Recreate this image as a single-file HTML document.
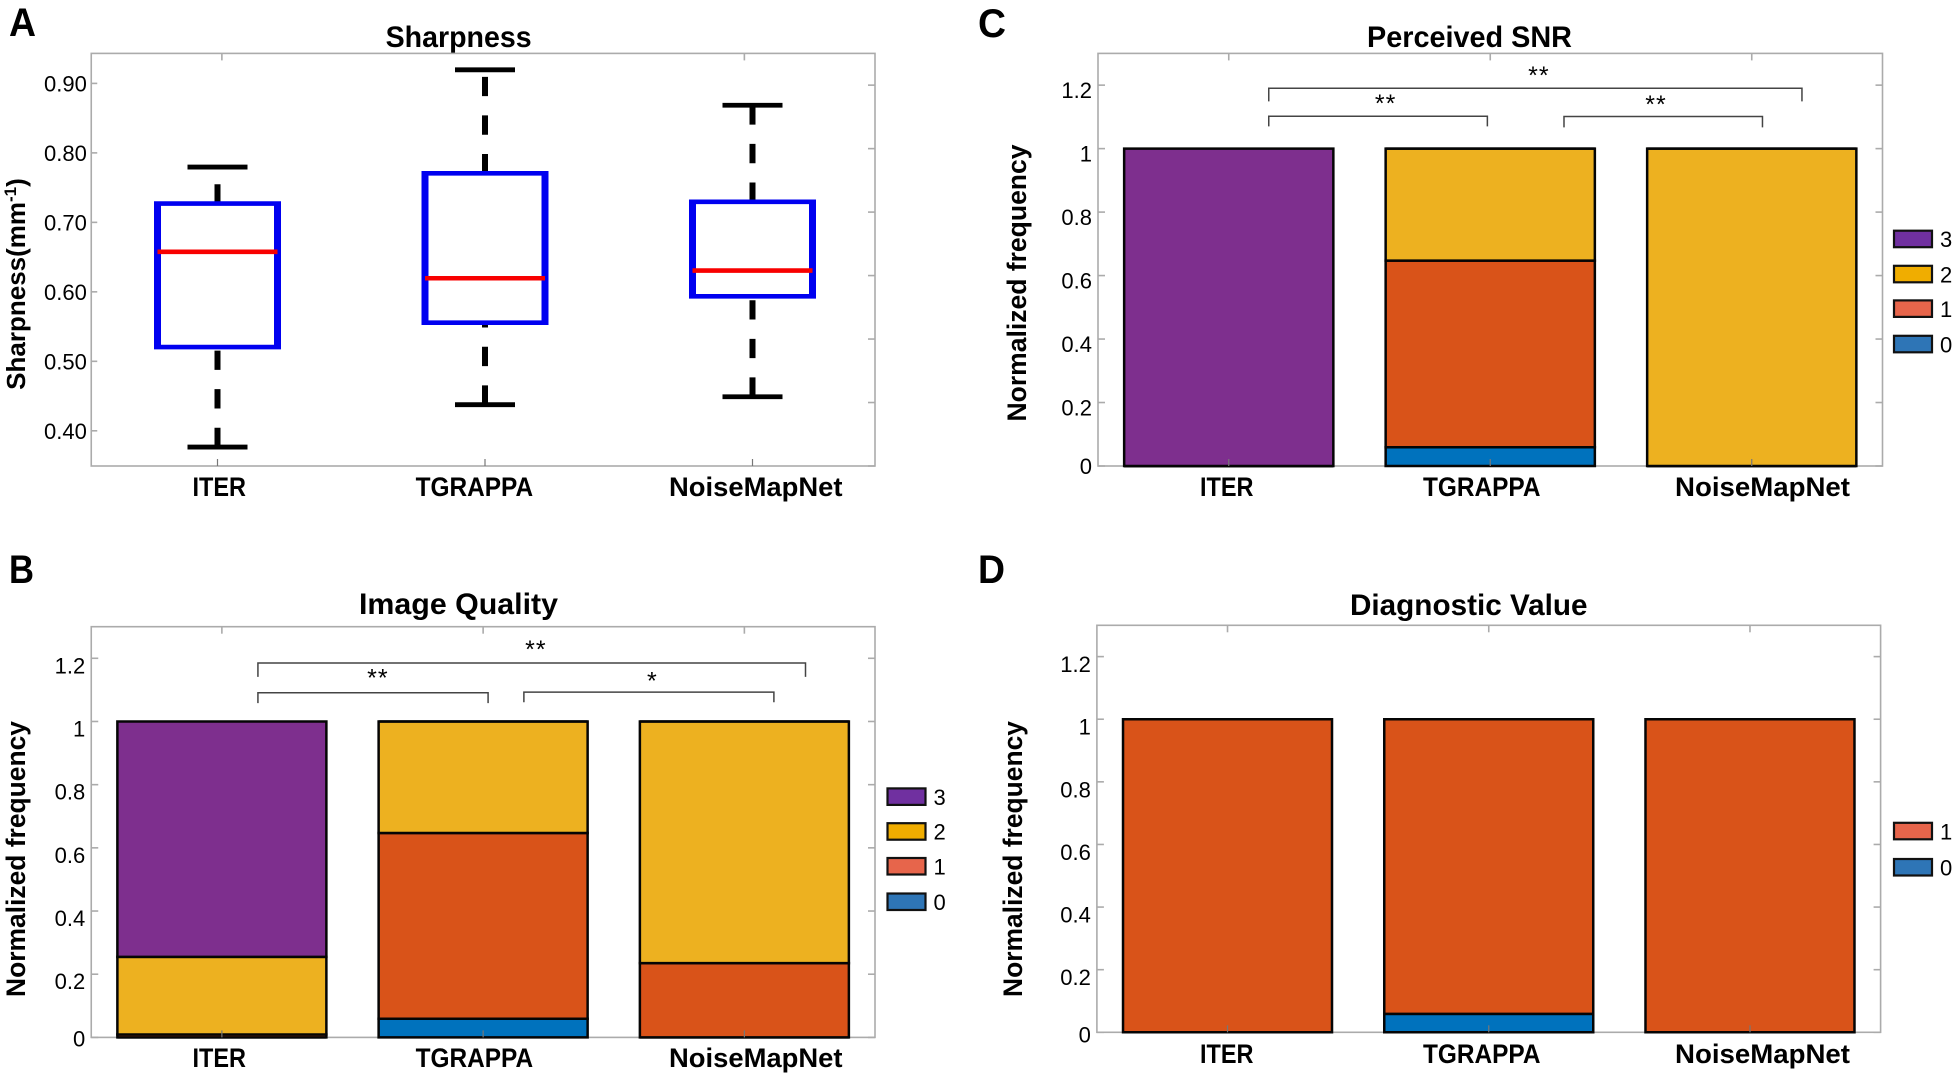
<!DOCTYPE html>
<html lang="en">
<head>
<meta charset="utf-8">
<title>Sharpness and reader score comparison</title>
<style>
html,body{margin:0;padding:0;background:#fff;width:1955px;height:1075px;overflow:hidden}
svg{display:block}
text{font-family:"Liberation Sans",sans-serif;fill:#000}
</style>
</head>
<body>
<svg id="figure" width="1955" height="1075" viewBox="0 0 1955 1075" xmlns="http://www.w3.org/2000/svg">
  <text x="9" y="36" font-size="40" font-weight="700" textLength="27" lengthAdjust="spacingAndGlyphs">A</text>
  <text x="9" y="583" font-size="40" font-weight="700" textLength="25" lengthAdjust="spacingAndGlyphs">B</text>
  <text x="978" y="37" font-size="40" font-weight="700" textLength="28" lengthAdjust="spacingAndGlyphs">C</text>
  <text x="978" y="583" font-size="40" font-weight="700" textLength="27" lengthAdjust="spacingAndGlyphs">D</text>

  <text x="385.6" y="47" font-size="30" font-weight="700" textLength="146" lengthAdjust="spacingAndGlyphs">Sharpness</text>
  <text x="1367" y="47" font-size="30" font-weight="700" textLength="205" lengthAdjust="spacingAndGlyphs">Perceived SNR</text>
  <text x="359" y="614" font-size="30" font-weight="700" textLength="199" lengthAdjust="spacingAndGlyphs">Image Quality</text>
  <text x="1350" y="615" font-size="30" font-weight="700" textLength="237.5" lengthAdjust="spacingAndGlyphs">Diagnostic Value</text>

  <text x="25" y="284" transform="rotate(-90 25 284)" text-anchor="middle" font-size="26" font-weight="700">Sharpness(mm<tspan font-size="17" dy="-9">-1</tspan><tspan dy="9">)</tspan></text>
  <text x="25" y="859" transform="rotate(-90 25 859)" text-anchor="middle" font-size="27" font-weight="700" textLength="276" lengthAdjust="spacingAndGlyphs">Normalized frequency</text>
  <text x="1026" y="283" transform="rotate(-90 1026 283)" text-anchor="middle" font-size="27" font-weight="700" textLength="277" lengthAdjust="spacingAndGlyphs">Normalized frequency</text>
  <text x="1022" y="859" transform="rotate(-90 1022 859)" text-anchor="middle" font-size="27" font-weight="700" textLength="276" lengthAdjust="spacingAndGlyphs">Normalized frequency</text>
</svg>
<script>
// ---- chart data ----
const categories = ['ITER', 'TGRAPPA', 'NoiseMapNet'];

// Panel A: box plot summary values
const sharpnessTicks = [0.40, 0.50, 0.60, 0.70, 0.80, 0.90];
const sharpnessHigh = [0.781, 0.921, 0.870];
const sharpnessQ3 = [0.7285, 0.772, 0.731];
const sharpnessMedian = [0.659, 0.621, 0.632];
const sharpnessQ1 = [0.522, 0.557, 0.595];
const sharpnessLow = [0.378, 0.439, 0.4505];

// Panels B, C, D: normalized frequency per rating, per category
const frequencyTicks = [0, 0.2, 0.4, 0.6, 0.8, 1, 1.2];
const ratingLevels = ['0', '1', '2', '3'];
const qualityRating0 = [0, 0.059, 0];
const qualityRating1 = [0.009, 0.588, 0.235];
const qualityRating2 = [0.246, 0.353, 0.765];
const qualityRating3 = [0.745, 0, 0];
const snrRating0 = [0, 0.059, 0];
const snrRating1 = [0, 0.588, 0];
const snrRating2 = [0, 0.353, 1];
const snrRating3 = [1, 0, 0];
const diagnosticRating0 = [0, 0.059, 0];
const diagnosticRating1 = [1, 0.941, 1];

// ---- styles ----
const barColors = ['#0072BD', '#D95319', '#EDB120', '#7E2F8E'];
const legendColors = ['#2E75B6', '#E7654B', '#F0AD00', '#7030A0'];
const axisColor = '#ababab';
const NS = 'http://www.w3.org/2000/svg';
const svg = document.getElementById('figure');

function make(tag, attrs, parent) {
  const el = document.createElementNS(NS, tag);
  for (const k in attrs) el.setAttribute(k, attrs[k]);
  (parent || svg).appendChild(el);
  return el;
}

function linear(d0, d1, r0, r1) {
  return function (v) { return r0 + (v - d0) * (r1 - r0) / (d1 - d0); };
}

function categoryScale(firstCenter, step) {
  return function (u) { return firstCenter + (u - 1) * step; };
}

function seg(x1, y1, x2, y2, color, w, parent, dash) {
  const a = { x1: x1, y1: y1, x2: x2, y2: y2, stroke: color, 'stroke-width': w };
  if (dash) a['stroke-dasharray'] = dash;
  return make('line', a, parent);
}

function drawFrame(p, g) {
  const frame = make('rect', { x: p.left, y: p.top, width: p.right - p.left, height: p.bottom - p.top, fill: 'none', stroke: axisColor, 'stroke-width': 1.6 }, g);
  
  
}

function drawXLabels(p, g, xs) {
  categories.forEach(function (c, i) {
    const t = make('text', { x: xs[i], y: p.labelY, 'font-size': 27, 'font-weight': 700, textLength: p.labelW[i], lengthAdjust: 'spacingAndGlyphs' }, g);
    t.textContent = c;
    
    
  });
}

function drawRightSideTicks(yFreq, p, g, both) {
  frequencyTicks.forEach(function (t) {
    const y = yFreq(t);
    if (both) {
      const l = seg(p.left, y, p.left + 7, y, axisColor, 1.6, g);
      
      
    }
    const r = seg(p.right - 7, y, p.right, y, axisColor, 1.6, g);
    
    
  });
}

function drawStackPanel(p, series, name) {
  const g = make('g', {});
  
  
  const y = linear(0, 1.3, p.bottom, p.top);
  const step = (p.right - p.left) / categories.length;
  const x = categoryScale(p.left + step / 2, step);
  const barW = step * 0.8;
  drawFrame(p, g);
  categories.forEach(function (c, i) {
    let base = 0;
    series.forEach(function (vals, r) {
      const x0 = x(i + 1) - barW / 2;
      const x1 = x0 + barW;
      const y0 = y(base);
      const y1 = y(base + vals[i]);
      const bar = make('path', { d: 'M' + x0 + ' ' + y0 + 'H' + x1 + 'V' + y1 + 'H' + x0 + 'Z', fill: barColors[r], stroke: '#050505', 'stroke-width': 2.5 }, g);
      
      
      base += vals[i];
    });
  });
  drawRightSideTicks(y, p, g, true);
  categories.forEach(function (c, i) {
    const a = seg(x(i + 1), p.top, x(i + 1), p.top + 7, axisColor, 1.6, g);
    
    
    const b = seg(x(i + 1), p.bottom - 7, x(i + 1), p.bottom, '#777', 1.2, g);
    
    
  });
  frequencyTicks.forEach(function (t) {
    const off = t === 0 ? p.zeroOff : p.tickOff;
    const lab = make('text', { x: p.left - 6, y: y(t) + off + 8, 'font-size': 22, 'text-anchor': 'end' }, g);
    lab.textContent = String(t);
    
    
  });
  drawXLabels(p, g, p.labelX);
  series.forEach(function (vals, r) {
    if (!p.legendY[r]) return;
    const sw = make('rect', { x: p.legendX, y: p.legendY[r], width: 38, height: 16.5, fill: legendColors[r], stroke: '#111', 'stroke-width': 2.2 }, g);
    
    
    const lt = make('text', { x: p.legendX + 46, y: p.legendY[r] + 16.5, 'font-size': 22 }, g);
    lt.textContent = ratingLevels[r];
    
    
  });
  return { x: x, y: y, g: g };
}

function drawBracket(ax, u0, u1, vTop, vEnd, stars, uStar, vStar) {
  const x0 = ax.x(u0), x1 = ax.x(u1), yt = ax.y(vTop), ye = ax.y(vEnd);
  const br = make('path', { d: 'M' + x0 + ' ' + ye + 'V' + yt + 'H' + x1 + 'V' + ye, fill: 'none', stroke: '#444', 'stroke-width': 1.5 }, ax.g);
  
  
  const st = make('text', { x: ax.x(uStar), y: ax.y(vStar) + 11.5, 'font-size': 25, 'text-anchor': 'middle', 'letter-spacing': 1 }, ax.g);
  st.textContent = stars;
  
  
}

// ---- Panel A ----
(function () {
  const p = { left: 91.25, right: 875, top: 53.4, bottom: 466, labelY: 496, labelW: [53.5, 117.5, 173.5] };
  const g = make('g', {});
  
  
  const y = linear(0.40, 0.90, 431.8, 84.4);
  const yFreq = linear(0, 1.3, p.bottom, p.top);
  const x = categoryScale(217.5, 267.5);
  const step = (p.right - p.left) / 3;
  drawFrame(p, g);
  drawRightSideTicks(yFreq, p, g, false);
  [1, 3].forEach(function (u) {
    const tx = p.left + (u - 0.5) * step;
    const t = seg(tx, p.top, tx, p.top + 7, axisColor, 1.6, g);
    
    
  });
  categories.forEach(function (c, i) {
    const cx = x(i + 1);
    const key = c.toLowerCase();
    const b = seg(cx, p.bottom - 7, cx, p.bottom, '#777', 1.2, g);
    
    
    const wu = seg(cx, y(sharpnessQ3[i]), cx, y(sharpnessHigh[i]), '#000', 6, g, '19.3 19.3');
    
    
    const wl = seg(cx, y(sharpnessLow[i]), cx, y(sharpnessQ1[i]), '#000', 6, g, '19.3 19.3');
    
    
    const cu = seg(cx - 30, y(sharpnessHigh[i]), cx + 30, y(sharpnessHigh[i]), '#000', 4.8, g);
    
    
    const cl = seg(cx - 30, y(sharpnessLow[i]), cx + 30, y(sharpnessLow[i]), '#000', 4.8, g);
    
    
    const yt = y(sharpnessQ3[i]), yb = y(sharpnessQ1[i]);
    const hw = 60;
    const bg = make('g', {}, g);
    
    
    make('rect', { x: cx - hw, y: yt, width: 2 * hw, height: yb - yt, fill: '#fff' }, bg);
    seg(cx - hw - 3.5, yt, cx + hw + 3.5, yt, '#0000F0', 4.6, bg);
    seg(cx - hw - 3.5, yb, cx + hw + 3.5, yb, '#0000F0', 4.6, bg);
    seg(cx - hw, yt, cx - hw, yb, '#0000F0', 7, bg);
    seg(cx + hw, yt, cx + hw, yb, '#0000F0', 7, bg);
    const med = seg(cx - hw, y(sharpnessMedian[i]), cx + hw, y(sharpnessMedian[i]), '#F80000', 4.6, g);
    
    
  });
  sharpnessTicks.forEach(function (t) {
    const tk = seg(p.left, y(t) - 1, p.left + 6, y(t) - 1, axisColor, 1.6, g);
    
    
    const lab = make('text', { x: 44, y: y(t) + 7, 'font-size': 22 }, g);
    lab.textContent = t.toFixed(2);
    
    
  });
  drawXLabels(p, g, [192.5, 415.6, 669]);
})();

// ---- Panel B ----
const quality = drawStackPanel({
  left: 91.25, right: 875, top: 626.7, bottom: 1037.4,
  labelY: 1067, labelX: [192.5, 415.6, 669], labelW: [53.5, 117.5, 173.5],
  legendX: 887.5, legendY: [893.5, 858, 823.2, 788.4],
  tickOff: 7, zeroOff: 1
}, [qualityRating0, qualityRating1, qualityRating2, qualityRating3], 'image-quality');
drawBracket(quality, 1.138, 3.234, 1.185, 1.141, '**', 2.202, 1.238);
drawBracket(quality, 1.138, 2.019, 1.091, 1.058, '**', 1.597, 1.147);
drawBracket(quality, 2.156, 3.113, 1.093, 1.061, '*', 2.648, 1.138);

// ---- Panel C ----
const snr = drawStackPanel({
  left: 1098, right: 1882.5, top: 53.4, bottom: 466,
  labelY: 496, labelX: [1200, 1423, 1675], labelW: [53.5, 117.5, 175],
  legendX: 1894, legendY: [335.8, 300.4, 265.8, 230.7],
  tickOff: 5, zeroOff: 0
}, [snrRating0, snrRating1, snrRating2, snrRating3], 'perceived-snr');
drawBracket(snr, 1.153, 3.192, 1.190, 1.149, '**', 2.186, 1.240);
drawBracket(snr, 1.153, 1.989, 1.102, 1.070, '**', 1.600, 1.151);
drawBracket(snr, 2.282, 3.041, 1.101, 1.067, '**', 2.634, 1.148);

// ---- Panel D ----
drawStackPanel({
  left: 1096.9, right: 1880.6, top: 625.3, bottom: 1032.3,
  labelY: 1063, labelX: [1200, 1423, 1675], labelW: [53.5, 117.5, 175],
  legendX: 1894, legendY: [859, 822.8],
  tickOff: 7.5, zeroOff: 2
}, [diagnosticRating0, diagnosticRating1], 'diagnostic-value');
</script>
</body>
</html>
